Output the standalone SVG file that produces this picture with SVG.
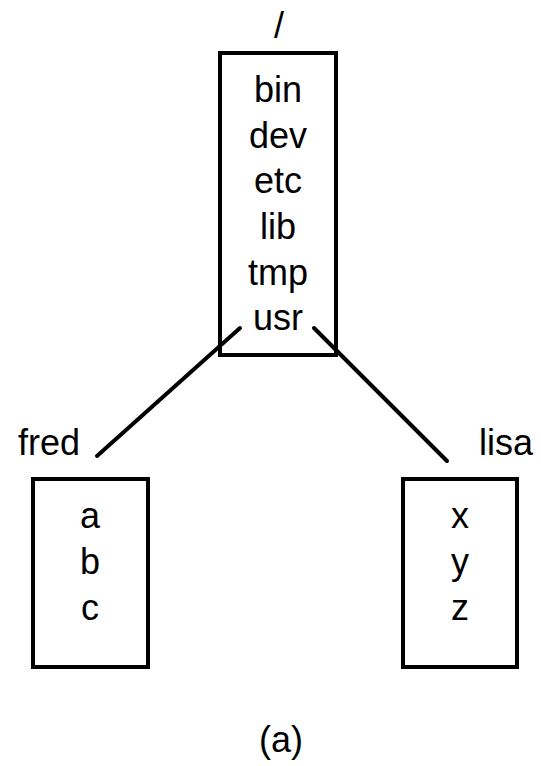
<svg xmlns="http://www.w3.org/2000/svg" width="541" height="766" viewBox="0 0 541 766">
  <style>
    .box { fill: none; stroke: #000; stroke-width: 4; }
    .edge { stroke: #000; stroke-width: 4; stroke-linecap: round; }
    text { font-family: "Liberation Sans", Arial, sans-serif; font-size: 36px; fill: #000; }
    .mid { text-anchor: middle; }
  </style>
  <rect width="541" height="766" fill="#fff"/>

  <!-- edges from usr to the two home directories -->
  <g id="connectors">
    <line class="edge" x1="240" y1="328" x2="97" y2="456"/>
    <line class="edge" x1="314" y1="328" x2="447" y2="461"/>
  </g>

  <!-- root directory -->
  <g id="root">
    <text class="mid" x="279" y="38">/</text>
    <rect class="box" x="220" y="53" width="116" height="302"/>
    <text class="mid" x="278" y="102">bin</text>
    <text class="mid" x="278" y="148">dev</text>
    <text class="mid" x="278" y="193">etc</text>
    <text class="mid" x="278" y="239">lib</text>
    <text class="mid" x="278" y="285">tmp</text>
    <text class="mid" x="278" y="330">usr</text>
  </g>

  <!-- fred's directory -->
  <g id="fred">
    <text x="18" y="455">fred</text>
    <rect class="box" x="33" y="479" width="115" height="188"/>
    <text class="mid" x="90" y="528">a</text>
    <text class="mid" x="90" y="574">b</text>
    <text class="mid" x="90" y="620">c</text>
  </g>

  <!-- lisa's directory -->
  <g id="lisa">
    <text x="479" y="455">lisa</text>
    <rect class="box" x="403" y="479" width="114" height="188"/>
    <text class="mid" x="460" y="528">x</text>
    <text class="mid" x="460" y="574">y</text>
    <text class="mid" x="460" y="620">z</text>
  </g>

  <text id="caption" class="mid" x="281" y="752">(a)</text>
</svg>
